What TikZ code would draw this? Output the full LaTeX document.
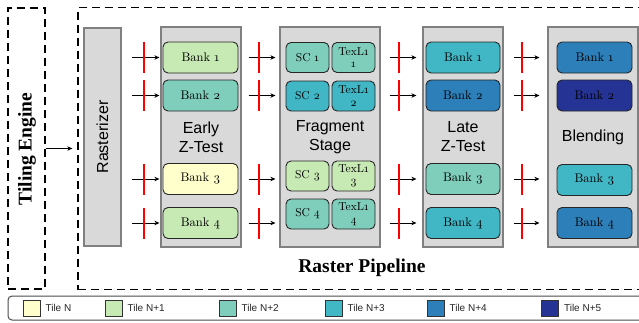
\documentclass[tikz,border=0pt]{standalone}
\usepackage{fontspec}
\setmainfont{Liberation Serif}
\setsansfont{Liberation Sans}
\newfontfamily\bankfont{lmroman10-regular.otf}[Numbers=OldStyle]
\usetikzlibrary{arrows.meta, positioning}

\definecolor{tileA}{HTML}{FFFFCC}
\definecolor{tileB}{HTML}{C7E9B4}
\definecolor{tileC}{HTML}{7FCDBB}
\definecolor{tileD}{HTML}{41B6C4}
\definecolor{tileE}{HTML}{2C7FB8}
\definecolor{tileF}{HTML}{253494}
\definecolor{stagegray}{HTML}{D9D9D9}
\definecolor{stageedge}{HTML}{808080}

\begin{document}
\begin{tikzpicture}[x=1pt, y=-1pt,
  stage/.style={rectangle, draw=stageedge, line width=1.2pt, fill=stagegray, minimum width=80pt, minimum height=220pt, inner sep=0pt, align=center, font=\sffamily\fontsize{16}{19}\selectfont},
  bank/.style={rectangle, rounded corners=5pt, draw=black!85, line width=0.9pt, minimum width=75pt, minimum height=31pt, inner sep=0pt, font=\bankfont\fontsize{12.5}{13}\selectfont},
  unit/.style={bank, minimum width=43pt, minimum height=30pt, align=center, font=\bankfont\fontsize{11.5}{12.5}\selectfont},
  group/.style={rectangle, draw, dash pattern=on 8pt off 5pt, line width=1.3pt, inner sep=0pt},
  title/.style={font=\bfseries\fontsize{19.5}{22}\selectfont},
  arr/.style={->, -{Stealth[length=5pt, width=4.5pt]}, line width=0.8pt},
  tick/.style={fill=red, minimum width=1.8pt, minimum height=31pt, inner sep=0pt, outer sep=0pt},
  swatch/.style={rectangle, draw=black!80, line width=0.7pt, minimum width=17pt, minimum height=16pt, inner sep=0pt},
  keytext/.style={inner sep=0pt, text=black!85, font=\sffamily\fontsize{10}{12}\selectfont}
]
\useasboundingbox (0,0) rectangle (639,322);
\clip (0,0) rectangle (639,322);

% outer groups
\node[group, minimum width=37pt, minimum height=281pt] (tiling) at (26.5,148.5) {};
\node[title, rotate=90] (tilinglbl) at (27,149) {Tiling Engine};
\node[group, minimum width=572pt, minimum height=282pt] (pipe) at (364,148.5) {};
\node[title] (pipelbl) at (362,268) {Raster Pipeline};

% stages
\node[stage, minimum width=37pt, minimum height=218pt] (rast) at (102.5,137) {};
\node[font=\sffamily\fontsize{16}{19}\selectfont, rotate=90] (rastlbl) at (rast) {Rasterizer};
\node[stage] (early) at (201,137) {Early\\Z-Test};
\node[stage, minimum width=100pt] (frag) at (330,137) {Fragment\\Stage};
\node[stage] (late) at (463,137) {Late\\Z-Test};
\node[stage, minimum width=90pt] (blend) at (593,137) {Blending};

% early z banks
\node[bank, fill=tileB] (eb1) at (200.5,57.5) {Bank 1};
\node[bank, fill=tileC] (eb2) at (200.5,95.5) {Bank 2};
\node[bank, fill=tileA] (eb3) at (200.5,179) {Bank 3};
\node[bank, fill=tileB] (eb4) at (200.5,223) {Bank 4};

% fragment units
\node[unit, fill=tileC] (sc1) at (307.5,57.5) {SC 1};
\node[unit, fill=tileC] (tex1) at (353.5,57.5) {TexL1\\1};
\node[unit, fill=tileD] (sc2) at (307.5,96) {SC 2};
\node[unit, fill=tileD] (tex2) at (353.5,96) {TexL1\\2};
\node[unit, fill=tileB] (sc3) at (307.5,176) {SC 3};
\node[unit, fill=tileB] (tex3) at (353.5,176) {TexL1\\3};
\node[unit, fill=tileC] (sc4) at (307.5,214) {SC 4};
\node[unit, fill=tileC] (tex4) at (353.5,214) {TexL1\\4};

% late z banks
\node[bank, fill=tileD, minimum width=74pt] (lb1) at (463,57.5) {Bank 1};
\node[bank, fill=tileE, minimum width=74pt] (lb2) at (463,95.5) {Bank 2};
\node[bank, fill=tileC, minimum width=74pt] (lb3) at (463,179) {Bank 3};
\node[bank, fill=tileD, minimum width=74pt] (lb4) at (463,223) {Bank 4};

% blending banks
\node[bank, fill=tileE] (bb1) at (594.5,57.5) {Bank 1};
\node[bank, fill=tileF] (bb2) at (594.5,95.5) {Bank 2};
\node[bank, fill=tileD] (bb3) at (594.5,180) {Bank 3};
\node[bank, fill=tileE] (bb4) at (594.5,223) {Bank 4};

% pipeline arrows
\draw[arr, shorten >=5pt] (tiling.east) -- (pipe.west);

\draw[arr] ([xshift=10pt]rast.east |- eb1) -- node[tick, pos=0.45] (ra1) {} ([xshift=-1pt]early.west |- eb1);
\draw[arr] ([xshift=10pt]rast.east |- eb2) -- node[tick, pos=0.45] (ra2) {} ([xshift=-1pt]early.west |- eb2);
\draw[arr] ([xshift=10pt]rast.east |- eb3) -- node[tick, pos=0.45] (ra3) {} ([xshift=-1pt]early.west |- eb3);
\draw[arr] ([xshift=10pt]rast.east |- eb4) -- node[tick, pos=0.45] (ra4) {} ([xshift=-1pt]early.west |- eb4);

\draw[arr] ([xshift=7pt]early.east |- eb1) -- node[tick, pos=0.4] (ea1) {} ([xshift=-4pt]frag.west |- eb1);
\draw[arr] ([xshift=7pt]early.east |- eb2) -- node[tick, pos=0.4] (ea2) {} ([xshift=-4pt]frag.west |- eb2);
\draw[arr] ([xshift=7pt]early.east |- eb3) -- node[tick, pos=0.4] (ea3) {} ([xshift=-4pt]frag.west |- eb3);
\draw[arr] ([xshift=7pt]early.east |- eb4) -- node[tick, pos=0.4] (ea4) {} ([xshift=-4pt]frag.west |- eb4);

\draw[arr] ([xshift=9pt]frag.east |- eb1) -- node[tick, pos=0.36] (fa1) {} ([xshift=-6pt]late.west |- eb1);
\draw[arr] ([xshift=9pt]frag.east |- eb2) -- node[tick, pos=0.36] (fa2) {} ([xshift=-6pt]late.west |- eb2);
\draw[arr] ([xshift=9pt]frag.east |- eb3) -- node[tick, pos=0.36] (fa3) {} ([xshift=-6pt]late.west |- eb3);
\draw[arr] ([xshift=9pt]frag.east |- eb4) -- node[tick, pos=0.36] (fa4) {} ([xshift=-6pt]late.west |- eb4);

\draw[arr] ([xshift=10pt]late.east |- lb1) -- node[tick, pos=0.33] (la1) {} ([xshift=-8pt]blend.west |- lb1);
\draw[arr] ([xshift=10pt]late.east |- lb2) -- node[tick, pos=0.33] (la2) {} ([xshift=-8pt]blend.west |- lb2);
\draw[arr] ([xshift=10pt]late.east |- lb3) -- node[tick, pos=0.33] (la3) {} ([xshift=-8pt]blend.west |- lb3);
\draw[arr] ([xshift=10pt]late.east |- lb4) -- node[tick, pos=0.33] (la4) {} ([xshift=-8pt]blend.west |- lb4);

% legend
\node[rectangle, rounded corners=4pt, draw=black!70, line width=1pt, minimum width=642pt, minimum height=24pt] (legend) at (329,308) {};
\node[swatch, fill=tileA] (sw1) at (31.5,308) {};
\node[keytext, right=5pt of sw1] (k1) {Tile N};
\node[swatch, fill=tileB] (sw2) at (113.5,308) {};
\node[keytext, right=5pt of sw2] (k2) {Tile N+1};
\node[swatch, fill=tileC] (sw3) at (227.5,308) {};
\node[keytext, right=5pt of sw3] (k3) {Tile N+2};
\node[swatch, fill=tileD] (sw4) at (333.5,308) {};
\node[keytext, right=5pt of sw4] (k4) {Tile N+3};
\node[swatch, fill=tileE] (sw5) at (435.5,308) {};
\node[keytext, right=5pt of sw5] (k5) {Tile N+4};
\node[swatch, fill=tileF] (sw6) at (550,308) {};
\node[keytext, right=5pt of sw6] (k6) {Tile N+5};

\end{tikzpicture}
\end{document}
